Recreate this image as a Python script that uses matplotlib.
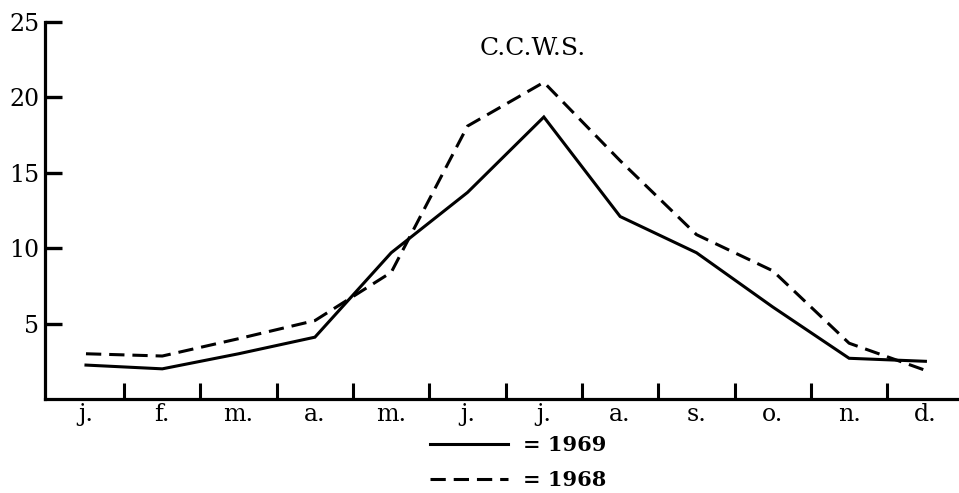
import numpy as np
import matplotlib.pyplot as plt

months = ["j.", "f.", "m.", "a.", "m.", "j.", "j.", "a.", "s.", "o.", "n.", "d."]
y1969 = [2.25, 2.0, 3.0, 4.1, 9.7, 13.7, 18.7, 12.1, 9.7, 6.1, 2.7, 2.5]
y1968 = [3.0, 2.85, 4.0, 5.2, 8.4, 18.1, 21.0, 15.8, 10.9, 8.5, 3.7, 1.9]
yticks = [5, 10, 15, 20, 25]

plt.rcParams['font.family'] = ['DejaVu Serif']

W, H = 959, 493
fig = plt.figure(figsize=(W/100, H/100), dpi=100)
ax = fig.add_axes([45/W, (H-399)/H, (W-45)/W, (399-22)/H])

x = np.arange(len(months))
dash = (0, (5, 2.6))
ax.plot(x, y1969, c="black", lw=2.2, label="= 1969", solid_joinstyle='miter')
ax.plot(x, y1968, c="black", lw=2.2, ls=dash, label="= 1968")

ax.set_xlim(-0.537, 11.44)
ax.set_ylim(0, 25)

for s in ["top", "right"]:
    ax.spines[s].set_visible(False)
for s in ["left", "bottom"]:
    ax.spines[s].set_linewidth(2.3)

ax.set_yticks(yticks)
ax.set_yticklabels([str(v) for v in yticks])
ax.tick_params(axis='y', direction='in', length=12, width=2.4, pad=4, labelsize=17)

ax.set_xticks(x)
ax.set_xticklabels(months)
ax.set_xticks(x[:-1] + 0.5, minor=True)
ax.tick_params(axis='x', which='major', length=0, pad=3, labelsize=17)
ax.tick_params(axis='x', which='minor', direction='in', length=11.5, width=2.2)

ax.text(5.86, 22.5, "C.C.W.S.", fontsize=18, ha="center", va="bottom")

leg = ax.legend(loc="upper left", bbox_to_anchor=(420/W, (H-425)/H),
                bbox_transform=fig.transFigure, frameon=False,
                handlelength=3.7, handletextpad=0.75, labelspacing=0.7,
                prop={'size': 15, 'weight': 'bold'}, borderpad=0)

fig.savefig("out.png", dpi=100)
